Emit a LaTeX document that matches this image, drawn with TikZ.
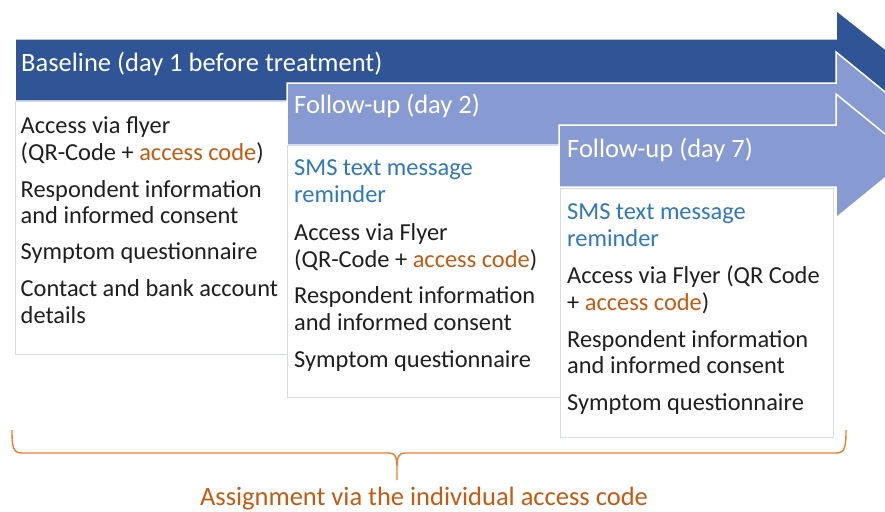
\documentclass[tikz,border=0pt]{standalone}
\usepackage{fontspec}
\setmainfont{Carlito}
\definecolor{darkblue}{HTML}{2F5597}
\definecolor{lightblue}{HTML}{879BD2}
\definecolor{boxgray}{HTML}{D6DCE5}
\definecolor{smsblue}{HTML}{2E78C0}
\definecolor{codeorange}{HTML}{C55A11}
\definecolor{braceorange}{HTML}{ED7D31}
\newcommand{\acode}{\textcolor{codeorange}{access code}}
\begin{document}
\begin{tikzpicture}[x=1pt,y=-1pt,
  arrowshape/.style={draw=white,line width=1.5pt,line join=miter},
  boxstyle/.style={draw=boxgray,fill=white,line width=1pt},
  bodytext/.style={anchor=base west,inner sep=0pt,text=black!88,font=\fontsize{24.4}{26.5}\selectfont},
  smstext/.style={bodytext,text=smsblue},
  titletext/.style={anchor=base west,inner sep=0pt,text=white,font=\fontsize{26.5}{30}\selectfont},
  captiontext/.style={anchor=base,inner sep=0pt,text=codeorange,font=\fontsize{26.5}{30}\selectfont},
  bracestyle/.style={draw=braceorange,line width=1.4pt}]
\useasboundingbox (0,0) rectangle (885,511);
\begin{scope}
\clip (0,0) rectangle (885,511);
\fill[white] (0,0) rectangle (885,511);
% arrow 1
\draw[arrowshape,fill=darkblue] (15,39) -- (836,39) -- (836,10) -- (912,70) -- (836,130) -- (836,101) -- (15,101) -- cycle;
\draw[boxstyle] (15,101) rectangle (287,354);
% arrow 2
\draw[arrowshape,fill=lightblue] (287,83) -- (836,83) -- (836,52) -- (912,114) -- (836,176) -- (836,145) -- (287,145) -- cycle;
\draw[boxstyle] (287,145) rectangle (560,397);
% arrow 3
\draw[arrowshape,fill=lightblue] (559,125) -- (836,125) -- (836,94) -- (912,156) -- (836,218) -- (836,187) -- (559,187) -- cycle;
\draw[boxstyle] (560,188) rectangle (833,437);
\end{scope}
% titles
\node[titletext] (t1) at (21,71) {Baseline (day 1 before treatment)};
\node[titletext] (t2) at (294,113) {Follow-up (day 2)};
\node[titletext] (t3) at (567,157) {Follow-up (day 7)};
% box 1
\node[bodytext] (a1) at (20.5,133) {Access via flyer};
\node[bodytext] (a2) at (20.5,160) {(QR-Code + \acode)};
\node[bodytext] (a3) at (20.5,197) {Respondent information};
\node[bodytext] (a4) at (20.5,223) {and informed consent};
\node[bodytext] (a5) at (20.5,259) {Symptom questionnaire};
\node[bodytext] (a6) at (20.5,296) {Contact and bank account};
\node[bodytext] (a7) at (20.5,323) {details};
% box 2
\node[smstext] (c1) at (294,175) {SMS text message};
\node[smstext] (c2) at (294,202) {reminder};
\node[bodytext] (c3) at (294,240) {Access via Flyer};
\node[bodytext] (c4) at (294,267) {(QR-Code + \acode)};
\node[bodytext] (c5) at (294,303) {Respondent information};
\node[bodytext] (c6) at (294,330) {and informed consent};
\node[bodytext] (c7) at (294,367) {Symptom questionnaire};
% box 3
\node[smstext] (d1) at (567,219) {SMS text message};
\node[smstext] (d2) at (567,246) {reminder};
\node[bodytext] (d3) at (567,283) {Access via Flyer (QR Code};
\node[bodytext] (d4) at (567,310) {+ \acode)};
\node[bodytext] (d5) at (567,347) {Respondent information};
\node[bodytext] (d6) at (567,373) {and informed consent};
\node[bodytext] (d7) at (567,410) {Symptom questionnaire};
% brace
\draw[bracestyle] (12,430) .. controls (12,447) and (13,453) .. (22,453) -- (389,453) .. controls (395,453) and (397,457) .. (397,466) -- (397,480);
\draw[bracestyle] (846,430) .. controls (846,447) and (845,453) .. (836,453) -- (405,453) .. controls (399,453) and (397,457) .. (397,466);
\node[captiontext] (cap) at (424,505) {Assignment via the individual access code};
\end{tikzpicture}
\end{document}
